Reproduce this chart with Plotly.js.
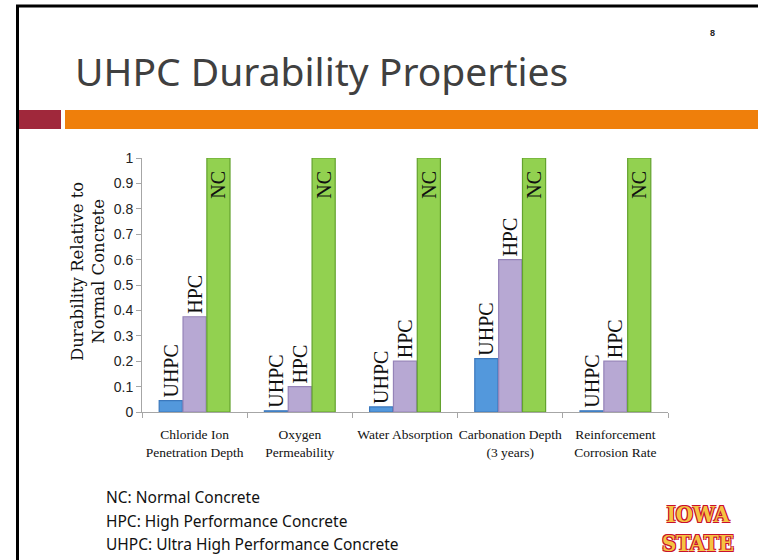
<!DOCTYPE html>
<html>
<head>
<meta charset="utf-8">
<script src="https://cdn.plot.ly/plotly-3.0.1.min.js"></script>
<style>
html,body{margin:0;padding:0;background:#fff;}
#chart{width:758px;height:560px;}
</style>
</head>
<body>
<div id="chart"></div>
<script>
// ---- data ----
const categories = ['Chloride Ion<br>Penetration Depth', 'Oxygen<br>Permeability', 'Water Absorption', 'Carbonation Depth<br>(3 years)', 'Reinforcement<br>Corrosion Rate'];
const seriesNames = ['UHPC', 'HPC', 'NC'];
const uhpcValues = [0.045, 0.005, 0.02, 0.21, 0.005];
const hpcValues = [0.375, 0.1, 0.2, 0.6, 0.2];
const ncValues = [1, 1, 1, 1, 1];
const yTickVals = [0, 0.1, 0.2, 0.3, 0.4, 0.5, 0.6, 0.7, 0.8, 0.9, 1];
const yTickText = ['0', '0.1', '0.2', '0.3', '0.4', '0.5', '0.6', '0.7', '0.8', '0.9', '1'];
const yTitleText = 'Durability Relative to<br>Normal Concrete';
const slideTitle = 'UHPC Durability Properties';
const slideNumber = '8';
const notes = ['NC: Normal Concrete', 'HPC: High Performance Concrete', 'UHPC: Ultra High Performance Concrete'];
const logoText = 'IOWA<br>STATE';

// ---- layout geometry (pixels) ----
const W = 758, H = 560;
const PL = 142, PR = 668, PT = 158, PB = 412;
const px = x => (x - PL) / (PR - PL);
const py = y => (PB - y) / (PB - PT);

const serif = 'Liberation Serif, Times New Roman, serif';
const wideSerif = 'DejaVu Serif, serif';
const sans = 'Liberation Sans, Arial, sans-serif';
const slideFont = 'Noto Sans, Open Sans, sans-serif';

function barTrace(name, values, fill, edge, pos, suffix) {
  return {
    type: 'bar',
    name: name,
    x: categories,
    y: values,
    text: values.map(() => name + suffix),
    textposition: pos,
    textangle: -90,
    insidetextanchor: 'end',
    constraintext: 'none',
    cliponaxis: false,
    textfont: {family: serif, size: 20, color: '#111'},
    insidetextfont: {family: serif, size: 20, color: '#111'},
    outsidetextfont: {family: serif, size: 20, color: '#111'},
    marker: {color: fill, line: {color: edge, width: 1.2}},
    hoverinfo: 'x+y+name'
  };
}

const data = [
  barTrace(seriesNames[0], uhpcValues, '#5398dc', '#3b78bd', 'outside', ''),
  barTrace(seriesNames[1], hpcValues, '#b7a8d3', '#9583b8', 'outside', ''),
  barTrace(seriesNames[2], ncValues, '#92d150', '#63a22e', 'inside', '\u00a0\u00a0')
];

const shapes = [
  {type: 'line', xref: 'paper', yref: 'paper', x0: px(16), x1: px(758), y0: py(6), y1: py(6), line: {color: '#000', width: 3}},
  {type: 'line', xref: 'paper', yref: 'paper', x0: px(17.5), x1: px(17.5), y0: py(5), y1: py(560), line: {color: '#000', width: 3}},
  {type: 'rect', xref: 'paper', yref: 'paper', x0: px(19), x1: px(61), y0: py(110), y1: py(129), fillcolor: '#a0283b', line: {width: 0}, layer: 'below'},
  {type: 'rect', xref: 'paper', yref: 'paper', x0: px(65), x1: px(758), y0: py(110), y1: py(129), fillcolor: '#ef7f0b', line: {width: 0}, layer: 'below'}
];

const annotations = [
  {xref: 'paper', yref: 'paper', x: px(73), y: py(71), xanchor: 'left', yanchor: 'middle', showarrow: false,
   text: slideTitle, font: {family: slideFont, size: 39, color: '#404040'}},
  {xref: 'paper', yref: 'paper', x: px(712), y: py(33), xanchor: 'center', yanchor: 'middle', showarrow: false,
   text: '<b>' + slideNumber + '</b>', font: {family: sans, size: 9, color: '#222'}},
  {xref: 'paper', yref: 'paper', x: px(88), y: py(272), xanchor: 'center', yanchor: 'middle', showarrow: false,
   textangle: -90, text: yTitleText, font: {family: wideSerif, size: 16.5, color: '#111'}},
  {xref: 'paper', yref: 'paper', x: px(698), y: py(528), xanchor: 'center', yanchor: 'middle', showarrow: false,
   text: '<b>' + logoText + '</b>', font: {family: 'DejaVu Serif Condensed, DejaVu Serif, serif', size: 22, color: '#f5c342',
   shadow: '1px 1px 0 #c8102e, -1px -1px 0 #c8102e, 1px -1px 0 #c8102e, -1px 1px 0 #c8102e'}}
];
const noteY = [497, 521, 544];
notes.forEach((t, i) => {
  annotations.push({xref: 'paper', yref: 'paper', x: px(104), y: py(noteY[i]), xanchor: 'left', yanchor: 'middle', showarrow: false,
    text: t, font: {family: slideFont, size: 15.5, color: '#111'}});
});

const layout = {
  width: W, height: H,
  margin: {l: PL, r: W - PR, t: PT, b: H - PB, pad: 0},
  paper_bgcolor: '#fff', plot_bgcolor: '#fff',
  showlegend: false,
  barmode: 'group',
  bargap: 0.32,
  bargroupgap: 0.03,
  xaxis: {
    type: 'category',
    showline: true, linecolor: '#a6a6a6', linewidth: 1,
    ticks: 'outside', tickson: 'boundaries', ticklen: 5, tickcolor: '#a6a6a6',
    showgrid: false, zeroline: false,
    tickangle: 0,
    ticklabelstandoff: 10,
    tickfont: {family: serif, size: 13.5, color: '#111'},
    fixedrange: true
  },
  yaxis: {
    range: [0, 1],
    tickvals: yTickVals, ticktext: yTickText,
    showline: true, linecolor: '#a6a6a6', linewidth: 1,
    ticks: 'outside', ticklen: 5, tickcolor: '#a6a6a6',
    showgrid: false, zeroline: false,
    tickfont: {family: sans, size: 14, color: '#222'},
    fixedrange: true
  },
  shapes: shapes,
  annotations: annotations
};

Plotly.newPlot('chart', data, layout, {displayModeBar: false, staticPlot: true});
</script>
</body>
</html>
